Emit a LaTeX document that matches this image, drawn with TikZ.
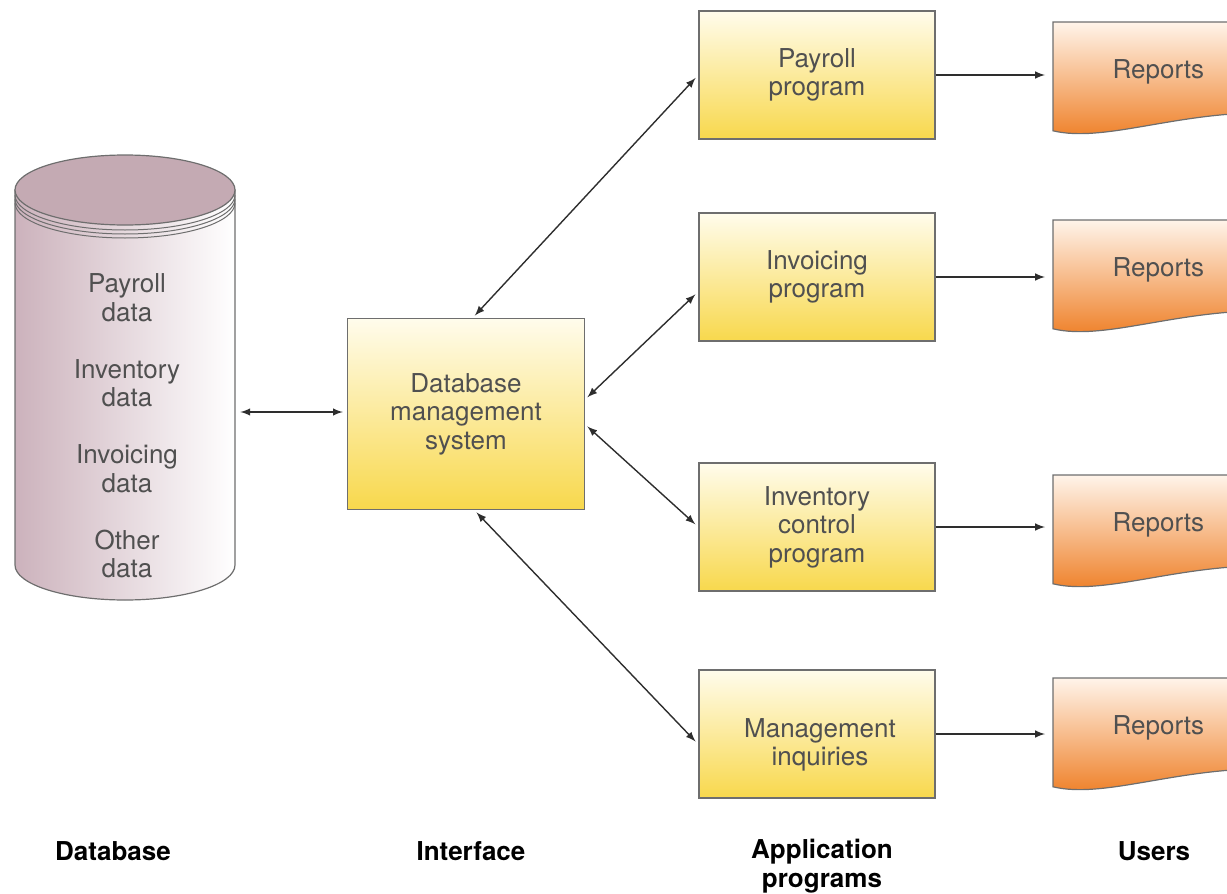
\documentclass[tikz,border=0pt]{standalone}
\usepackage{fontspec}
\setmainfont{TeX Gyre Heros}
\usetikzlibrary{calc, arrows, backgrounds, positioning}

\definecolor{boxtop}{HTML}{FFFCEC}
\definecolor{boxbottom}{HTML}{F8D84C}
\definecolor{reptop}{HTML}{FFF4EA}
\definecolor{repbottom}{HTML}{EE7B20}
\definecolor{dbleft}{HTML}{CCB2BC}
\definecolor{dbtop}{HTML}{C4AAB3}
\definecolor{textgray}{HTML}{505050}
\definecolor{linegray}{HTML}{6E6E6E}
\definecolor{arrowgray}{HTML}{2E2E2E}

\begin{document}
\begin{tikzpicture}[x=0.5pt, y=-0.5pt, >=latex,
    font=\fontsize{13}{14.2}\selectfont,
    prog/.style={draw=linegray, line width=0.7pt, top color=boxtop,
      bottom color=boxbottom, text=textgray, align=center,
      minimum width=118pt, minimum height=64pt, inner sep=0pt},
    rep/.style={anchor=north west, minimum width=105pt,
      minimum height=49pt, text=textgray, inner sep=0pt},
    link/.style={<->, draw=arrowgray, line width=0.7pt,
      shorten <=1.5pt, shorten >=2pt},
    flow/.style={->, draw=arrowgray, line width=0.7pt, shorten >=4pt},
    caption/.style={font=\fontsize{13}{14.5}\selectfont\bfseries,
      align=center}]

    \useasboundingbox (0,0) rectangle (1227,894);

    % database cylinder
    \draw[linegray, line width=0.6pt, left color=dbleft, right color=white]
      (15,190) -- (15,565)
      arc[start angle=180, end angle=0, x radius=110, y radius=35]
      -- (235,190) -- cycle;
    \foreach \d in {5,9,13} {
        \draw[linegray, line width=0.5pt] (15,190+\d)
          arc[start angle=180, end angle=0, x radius=110, y radius=35];
    };
    \draw[linegray, line width=0.6pt, fill=dbtop] (125,190)
      ellipse[x radius=110, y radius=35];

    \node[text=textgray, align=center, minimum width=110pt] (db) at (127,426)
      {Payroll\\data\\[14.3pt]Inventory\\data\\[14.3pt]Invoicing\\data\\[14.3pt]Other\\data};

    \node[prog, minimum width=118.5pt, minimum height=95.5pt] (dbms) at (466,414)
      {Database\\management\\system};

    \node[prog] (payroll)   at (817,75)  {Payroll\\program};
    \node[prog] (invoicing) at (817,277) {Invoicing\\program};
    \node[prog] (inventory) at (817,527) {Inventory\\control\\program};
    \node[prog] (inquiries) at (817,734) {};
    \node[text=textgray, align=center] (inquiries-text) at (820,745)
      {Management\\inquiries};

    \node[rep] (rep1) at (1053,22)  {Reports};
    \node[rep] (rep2) at (1053,220) {Reports};
    \node[rep] (rep3) at (1053,475) {Reports};
    \node[rep] (rep4) at (1053,678) {Reports};

    \begin{scope}[on background layer]
    \foreach \r in {rep1, rep2, rep3, rep4} {
        \draw[linegray, line width=0.6pt, top color=reptop, bottom color=repbottom]
          (\r.north west) -- (\r.north east) -- ($(\r.south east)+(0,-8)$)
          .. controls +(-90,0) and +(50,12) .. ($(\r.south west)+(0,10)$)
          -- cycle;
    };
    \end{scope}

    \draw[link] ([yshift=7pt]db.east) -- ([yshift=7pt]db.east -| dbms.west);
    \draw[link] (dbms.86)  -- (payroll.west);
    \draw[link] (dbms.7)   -- (invoicing.187);
    \draw[link] (dbms.-5)  -- (inventory.west);
    \draw[link] (dbms.-85) -- (inquiries.185);

    \draw[flow] (payroll.east)   -- (payroll.east -| rep1.west);
    \draw[flow] (invoicing.east) -- (invoicing.east -| rep2.west);
    \draw[flow] (inventory.east) -- (inventory.east -| rep3.west);
    \draw[flow] (inquiries.east) -- (inquiries.east -| rep4.west);

    \node[caption] (lbl-db)    at (113,851)  {Database};
    \node[caption] (lbl-if)    at (471,851)  {Interface};
    \node[caption] (lbl-app)   at (822,866)  {Application\\programs};
    \node[caption] (lbl-users) at (1154,851) {Users};
\end{tikzpicture}
\end{document}
